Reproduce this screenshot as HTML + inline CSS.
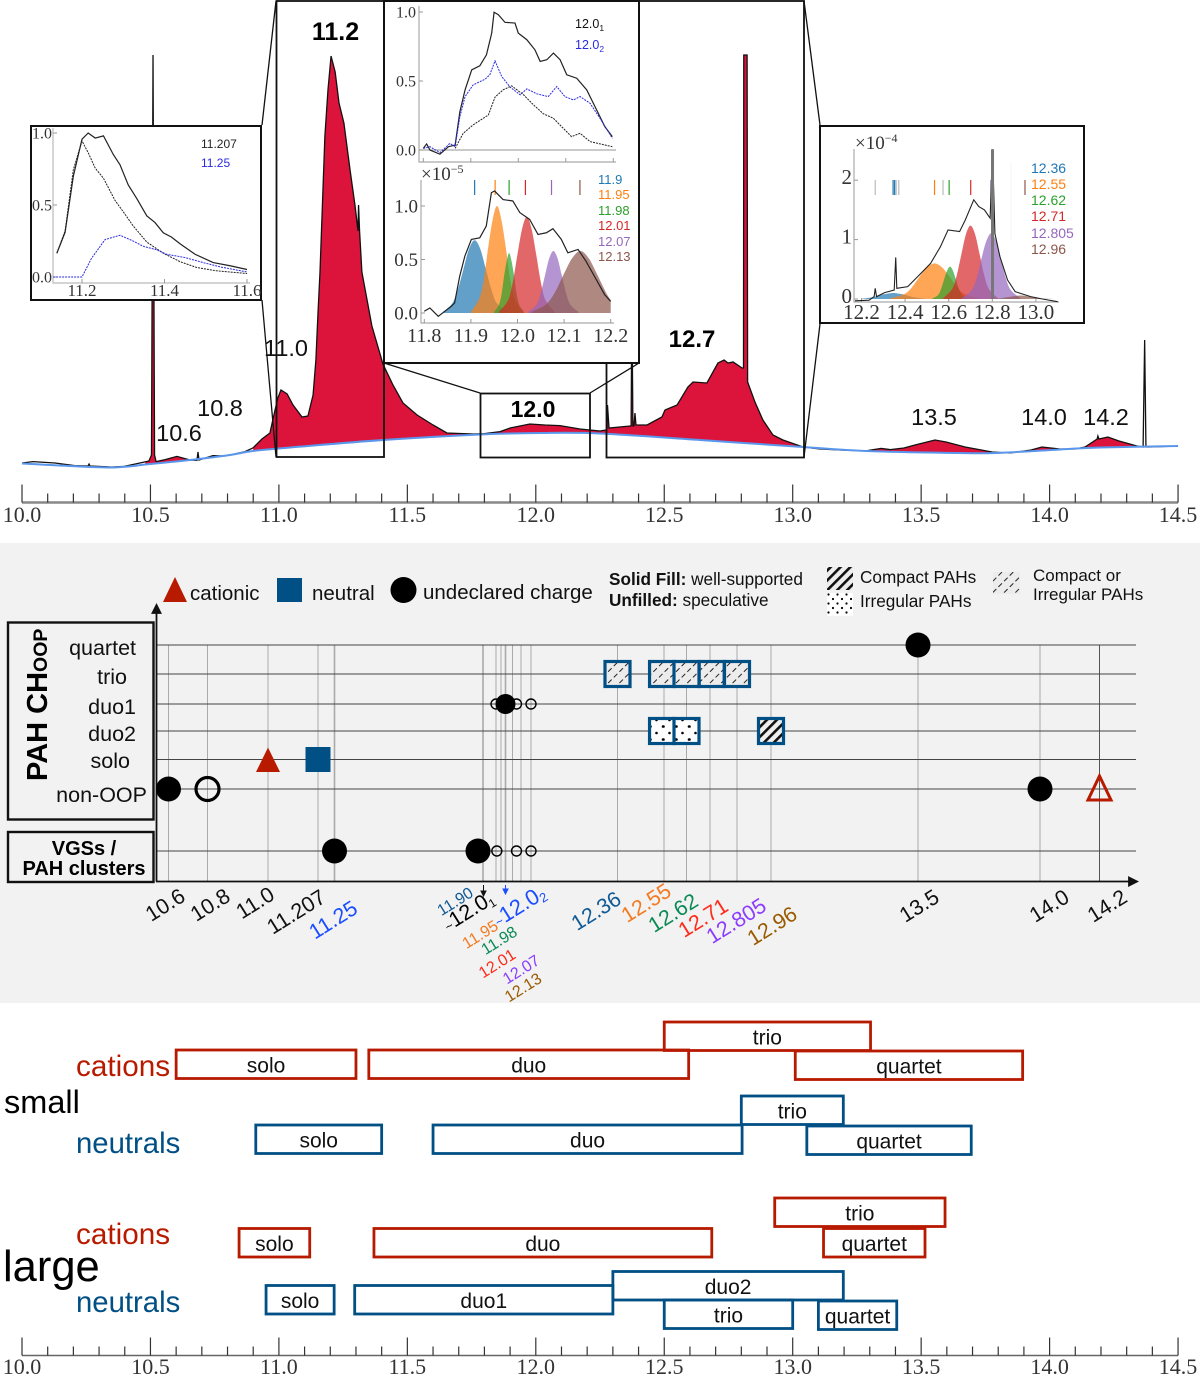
<!DOCTYPE html>
<html lang="en">
<head>
<meta charset="utf-8">
<title>PAH CH out-of-plane band assignments</title>
<style>
html,body{margin:0;padding:0;background:#fff;}
svg{display:block;font-family:"Liberation Sans",sans-serif;}
.ser{font-family:"Liberation Serif",serif;}
.lab{font-size:23.5px;fill:#111;text-anchor:middle;}
.bold{font-weight:bold;fill:#000;text-anchor:middle;}
.rot{font-size:21.5px;text-anchor:middle;}
.rots{font-size:16px;text-anchor:middle;}
.row{font-size:21.5px;fill:#111;text-anchor:end;}
.leg{font-size:20.5px;fill:#111;}
.key{font-size:17.2px;fill:#111;}
</style>
</head>
<body>
<svg id="figure" xmlns="http://www.w3.org/2000/svg" width="1200" height="1375" viewBox="0 0 1200 1375">
<defs>
<pattern id="hatch-compact" patternUnits="userSpaceOnUse" width="7" height="7" patternTransform="rotate(45)"><rect width="7" height="7" fill="#eee"/><rect x="0" width="2.6" height="7" fill="#111"/></pattern>
<pattern id="hatch-light" patternUnits="userSpaceOnUse" width="8" height="8" patternTransform="rotate(45)"><rect width="8" height="8" fill="#ececec"/><path d="M1 0V5" stroke="#222" stroke-width="1"/></pattern>
<pattern id="dots-irregular" patternUnits="userSpaceOnUse" width="13" height="13" x="650" y="718"><rect width="13" height="13" fill="#fff"/><circle cx="6.5" cy="2" r="1.3" fill="#000"/><circle cx="0.5" cy="8.5" r="1.3" fill="#000"/><circle cx="13" cy="8.5" r="1.3" fill="#000"/></pattern>
<pattern id="dots-legend" patternUnits="userSpaceOnUse" width="9" height="9" x="827" y="593"><rect width="9" height="9" fill="#fff"/><circle cx="1.5" cy="1.5" r="1.1" fill="#000"/><circle cx="6" cy="6" r="1.1" fill="#000"/></pattern>
</defs>

<g id="spectrum"></g>

<g>
<text class="lab" x="179" y="441">10.6</text>
<text class="lab" x="220" y="416">10.8</text>
<text class="lab" x="286" y="356">11.0</text>
<text class="lab" x="934" y="425">13.5</text>
<text class="lab" x="1044" y="425">14.0</text>
<text class="lab" x="1106" y="425">14.2</text>
</g>

<g fill="none" stroke="#111" stroke-width="1.8">
<rect x="276.5" y="1" width="107.5" height="456"/>
<rect x="480.5" y="393.5" width="109.5" height="64"/>
<rect x="606.5" y="1" width="197.5" height="456.5"/>
<path d="M276 1L262 125M262 300L276 457M384 363L480 393M639 363L590 393M804 1L820 125M820 324L804 457" stroke-width="1.3"/>
</g>
<text class="bold" x="335.5" y="40" font-size="25">11.2</text>
<text class="bold" x="533" y="417" font-size="23">12.0</text>
<text class="bold" x="692" y="347" font-size="24">12.7</text>

<g id="inset-a">
<rect x="31" y="126" width="230" height="174" fill="#fff" stroke="#111" stroke-width="2"/>
<path d="M53 128V283H250" fill="none" stroke="#bbb" stroke-width="1.2"/>
<text x="201" y="148" font-size="12" fill="#222">11.207</text>
<text x="201" y="167" font-size="12" fill="#2a2ae0">11.25</text>
</g>

<g id="inset-b">
<rect x="384" y="1" width="255" height="362" fill="#fff" stroke="#111" stroke-width="2"/>
<path d="M419 6V162H616M419 150H616" fill="none" stroke="#aaa" stroke-width="1.2"/>
<path d="M421 180V323H614" fill="none" stroke="#aaa" stroke-width="1.2"/>
<text x="575" y="28" font-size="12.5" fill="#111">12.0<tspan font-size="8.5" dy="3">1</tspan></text>
<text x="575" y="49" font-size="12.5" fill="#2a2ae0">12.0<tspan font-size="8.5" dy="3">2</tspan></text>
<text class="ser" x="421" y="180" font-size="19" fill="#333">×10<tspan font-size="12" dy="-7">−5</tspan></text>
<g font-size="13">
<text x="598" y="184" fill="#1f77b4">11.9</text>
<text x="598" y="199" fill="#ff7f0e">11.95</text>
<text x="598" y="215" fill="#2ca02c">11.98</text>
<text x="598" y="230" fill="#d62728">12.01</text>
<text x="598" y="246" fill="#9467bd">12.07</text>
<text x="598" y="261" fill="#8c564b">12.13</text>
</g>
</g>

<g id="inset-c">
<rect x="820" y="126" width="264" height="197" fill="#fff" stroke="#111" stroke-width="2"/>
<path d="M854 149V302H1059" fill="none" stroke="#aaa" stroke-width="1.2"/>
<path d="M1011 162V240" fill="none" stroke="#f4f4f4" stroke-width="1"/>
<text class="ser" x="855" y="149" font-size="19" fill="#333">×10<tspan font-size="12" dy="-7">−4</tspan></text>
<g font-size="14">
<text x="1031" y="173" fill="#1f77b4">12.36</text>
<text x="1031" y="189" fill="#ff7f0e">12.55</text>
<text x="1031" y="205" fill="#2ca02c">12.62</text>
<text x="1031" y="221" fill="#d62728">12.71</text>
<text x="1031" y="238" fill="#9467bd">12.805</text>
<text x="1031" y="254" fill="#8c564b">12.96</text>
</g>
</g>

<g id="top-axis"></g>

<rect x="0" y="543" width="1200" height="460" fill="#f2f2f2"/>
<g id="band-grid"></g>

<g>
<path d="M175 577L187 602H163Z" fill="#b81a00"/>
<text class="leg" x="190" y="600">cationic</text>
<rect x="277" y="578" width="25" height="24" fill="#004f85"/>
<text class="leg" x="312" y="600">neutral</text>
<circle cx="403.5" cy="590" r="13" fill="#000"/>
<text class="leg" x="423" y="599">undeclared charge</text>
<text class="key" x="609" y="585"><tspan font-weight="bold">Solid Fill:</tspan> well-supported</text>
<text class="key" x="609" y="606"><tspan font-weight="bold">Unfilled:</tspan> speculative</text>
<rect x="827" y="567" width="26" height="23" fill="url(#hatch-compact)"/>
<text class="key" x="860" y="583">Compact PAHs</text>
<rect x="827" y="593" width="26" height="23" fill="url(#dots-legend)"/>
<text class="key" x="860" y="607">Irregular PAHs</text>
<rect x="993" y="572" width="27" height="22" fill="url(#hatch-light)"/>
<text class="key" style="font-size:17px" x="1033" y="581">Compact or</text>
<text class="key" style="font-size:17px" x="1033" y="600">Irregular PAHs</text>
</g>

<g>
<rect x="8" y="622.5" width="145.5" height="197" fill="#f2f2f2" stroke="#111" stroke-width="2.4"/>
<rect x="8" y="832" width="145.5" height="50" fill="#f2f2f2" stroke="#111" stroke-width="2.4"/>
<text transform="translate(47,781) rotate(-90)" font-weight="bold" font-size="29" fill="#000">PAH CH<tspan font-size="19.5" dy="0">OOP</tspan></text>
<text class="row" x="136" y="655">quartet</text>
<text class="row" x="127" y="684">trio</text>
<text class="row" x="136" y="714">duo1</text>
<text class="row" x="136" y="741">duo2</text>
<text class="row" x="130" y="768">solo</text>
<text class="row" x="147" y="802">non-OOP</text>
<text x="84" y="855" font-size="20" font-weight="bold" text-anchor="middle" fill="#000">VGSs /</text>
<text x="84" y="875" font-size="20" font-weight="bold" text-anchor="middle" fill="#000">PAH clusters</text>
</g>

<g>
<text class="rot" transform="translate(169,911) rotate(-32)" fill="#111">10.6</text>
<text class="rot" transform="translate(214,911) rotate(-32)" fill="#111">10.8</text>
<text class="rot" transform="translate(259,909) rotate(-32)" fill="#111">11.0</text>
<text class="rot" transform="translate(300,918) rotate(-32)" fill="#111">11.207</text>
<text class="rot" transform="translate(337,926) rotate(-32)" fill="#1a4dff">11.25</text>
<text class="rots" transform="translate(458,906) rotate(-32)" fill="#0f5a96">11.90</text>
<text class="rot" style="font-size:21.5px" transform="translate(472,917) rotate(-32)" fill="#000"><tspan style="font-size:13px">~</tspan>12.0<tspan style="font-size:12px" dy="3">1</tspan></text>
<text class="rot" style="font-size:22px" transform="translate(523,912) rotate(-32)" fill="#1a4dff"><tspan style="font-size:13px">~</tspan>12.0<tspan style="font-size:13px" dy="3">2</tspan></text>
<text class="rots" transform="translate(483,939) rotate(-32)" fill="#f47a20">11.95</text>
<text class="rots" transform="translate(502,945) rotate(-32)" fill="#0a8a55">11.98</text>
<text class="rots" transform="translate(500,968) rotate(-32)" fill="#ff2a1a">12.01</text>
<text class="rots" transform="translate(524,974) rotate(-32)" fill="#8b3dff">12.07</text>
<text class="rots" transform="translate(526,992) rotate(-32)" fill="#9a5a00">12.13</text>
<text class="rot" transform="translate(600,917) rotate(-32)" fill="#0f5a96">12.36</text>
<text class="rot" transform="translate(650,909) rotate(-32)" fill="#f47a20">12.55</text>
<text class="rot" transform="translate(677,919) rotate(-32)" fill="#0a8a55">12.62</text>
<text class="rot" transform="translate(707,924) rotate(-32)" fill="#ff2a1a">12.71</text>
<text class="rot" transform="translate(740,927) rotate(-32)" fill="#8b3dff">12.805</text>
<text class="rot" transform="translate(776,932) rotate(-32)" fill="#9a5a00">12.96</text>
<text class="rot" transform="translate(923,912) rotate(-32)" fill="#111">13.5</text>
<text class="rot" transform="translate(1053,912) rotate(-32)" fill="#111">14.0</text>
<text class="rot" transform="translate(1111,912) rotate(-32)" fill="#111">14.2</text>
<path d="M483.5 885V894M481 891L483.5 896L486 891Z" stroke="#111" fill="#111" stroke-width="1"/>
<path d="M505.5 885V892M503 889L505.5 894L508 889Z" stroke="#1a4dff" fill="#1a4dff" stroke-width="1"/>
</g>

<g id="ranges"></g>
<g>
<text x="76" y="1076" font-size="29.7" fill="#b81a00">cations</text>
<text x="4" y="1113" font-size="32.5" fill="#000">small</text>
<text x="76" y="1153" font-size="29.3" fill="#004f85">neutrals</text>
<text x="76" y="1244" font-size="29.7" fill="#b81a00">cations</text>
<text x="3" y="1281" font-size="43.5" fill="#000">large</text>
<text x="76" y="1312" font-size="29.3" fill="#004f85">neutrals</text>
</g>
<g id="bottom-axis"></g>
</svg>

<script>
/* ---------- wavelength axis ---------- */
const axisMajorLabels = ['10.0','10.5','11.0','11.5','12.0','12.5','13.0','13.5','14.0','14.5'];
const axisMajorValues = [10,10.5,11,11.5,12,12.5,13,13.5,14,14.5];
const axisMinorValues = [10.1,10.2,10.3,10.4,10.6,10.7,10.8,10.9,11.1,11.2,11.3,11.4,11.6,11.7,11.8,11.9,12.1,12.2,12.3,12.4,12.6,12.7,12.8,12.9,13.1,13.2,13.3,13.4,13.6,13.7,13.8,13.9,14.1,14.2,14.3,14.4];

/* ---------- main spectrum (wavelength in micron, flux in arbitrary units) ---------- */
const spectrumWave = [10,10.043,10.128,10.206,10.257,10.261,10.265,10.35,10.397,10.459,10.494,10.504,10.51,10.516,10.522,10.557,10.603,10.654,10.681,10.685,10.689,10.743,10.79,10.806,10.814,10.868,10.899,10.934,10.965,10.985,10.996,11.008,11.032,11.055,11.09,11.113,11.133,11.144,11.152,11.16,11.179,11.191,11.203,11.219,11.234,11.253,11.277,11.296,11.308,11.31,11.314,11.323,11.362,11.405,11.444,11.483,11.538,11.6,11.654,11.756,11.8,11.861,11.9,11.977,12.036,12.094,12.172,12.25,12.273,12.277,12.279,12.285,12.367,12.371,12.374,12.378,12.382,12.386,12.39,12.433,12.491,12.503,12.55,12.592,12.612,12.666,12.709,12.733,12.748,12.768,12.803,12.8085,12.8095,12.8225,12.8245,12.853,12.884,12.923,12.962,13.04,13.106,13.184,13.281,13.344,13.379,13.433,13.476,13.554,13.597,13.671,13.776,13.846,13.928,13.97,14.041,14.099,14.138,14.185,14.188,14.192,14.227,14.27,14.34,14.364,14.37,14.375,14.391,14.5];
const spectrumFlux = [1.75,2.1,1.75,1.1,1,1.5,1,0.75,0.9,1.75,2.25,3.75,103.75,3.75,2.1,2.6,3.4,2.5,2.4,4.5,2.5,3.6,3.5,3.75,3.8,4.6,5.5,7.75,9.25,15,18,20,19,16.25,13.25,13.5,18.75,27.5,39,49.5,83.5,95,103.5,99.5,91.75,86.75,75,66.25,59.75,66.25,59.75,49.5,36,26.5,21.25,16.75,13.75,11.25,9.25,9,9.1,9.6,10.5,11.5,11.25,11.1,10.25,9.75,10,10.25,16.25,10.5,11,11,42.5,11,11,14.25,11.25,11.25,13.25,15,16.25,20.75,22,21.75,26.75,27.5,26.75,27,25.5,25.5,103.75,103.75,22,17,12.5,8.75,7.5,5.75,5.25,5,4.75,5.4,5.1,5.5,6.25,7.5,7,5.75,4.5,4.25,5,5.75,5.25,5.25,5.75,7.75,8.5,7.75,8.25,7.25,6,5.75,32.5,5.75,5.75,6];
const continuumWave = [10,10.148,10.354,10.498,10.654,10.81,10.899,11.082,11.405,11.783,12.016,12.25,12.639,13.04,13.281,13.651,13.791,14.041,14.196,14.5];
const continuumFlux = [1.63,1.13,0.63,1.5,2.5,3.75,4.75,5.83,7.5,8.88,9.25,9.13,7.5,5.75,4.75,4.25,4.25,5.13,5.63,6];
const pahRegionStart = [10.48,10.9,13.3,13.91,14.13];
const pahRegionEnd = [10.81,13.04,13.78,14.05,14.345];

/* ---------- inset 11.2 ---------- */
const a11207Wave = [11.139,11.159,11.179,11.2,11.215,11.232,11.252,11.276,11.292,11.312,11.333,11.357,11.377,11.397,11.417,11.438,11.474,11.518,11.559,11.6];
const a11207Flux = [0.165,0.31,0.7,0.957,1,0.965,0.98,0.85,0.78,0.64,0.544,0.425,0.378,0.307,0.277,0.23,0.158,0.1,0.078,0.052];
const aTotalWave = [11.139,11.159,11.179,11.2,11.215,11.232,11.252,11.28,11.304,11.324,11.357,11.397,11.438,11.478,11.526,11.6];
const aTotalFlux = [0.165,0.32,0.745,0.945,0.863,0.756,0.686,0.532,0.437,0.355,0.243,0.165,0.106,0.066,0.043,0.024];
const a1125Wave = [11.13,11.2,11.223,11.256,11.292,11.32,11.349,11.381,11.405,11.45,11.494,11.535,11.6];
const a1125Flux = [0,0,0.13,0.26,0.29,0.255,0.213,0.189,0.158,0.135,0.1,0.07,0.035];
const aXTicks = [11.2,11.4,11.6];
const aXTickLabels = ['11.2','11.4','11.6'];
const aYTicks = [0,0.5,1];
const aYTickLabels = ['0.0','0.5','1.0'];

/* ---------- inset 12.0, upper ---------- */
const b1Wave = [11.8,11.807,11.814,11.835,11.853,11.867,11.877,11.888,11.902,11.919,11.933,11.944,11.949,11.958,11.972,11.993,12,12.018,12.035,12.046,12.06,12.074,12.088,12.102,12.123,12.144,12.165,12.182,12.198];
const b1Flux = [0.012,0.044,0,-0.03,0.024,0.036,0.278,0.436,0.581,0.61,0.69,0.847,0.998,0.98,0.925,0.92,0.847,0.799,0.726,0.642,0.654,0.702,0.654,0.545,0.52,0.436,0.29,0.17,0.097];
const b2Wave = [11.8,11.814,11.835,11.856,11.867,11.877,11.888,11.905,11.93,11.94,11.951,11.965,11.983,12.004,12.018,12.039,12.063,12.081,12.098,12.116,12.13,12.151,12.172,12.198];
const b2Flux = [0.012,0.024,-0.019,0.048,0.024,0.242,0.387,0.472,0.513,0.545,0.646,0.533,0.455,0.4,0.443,0.407,0.387,0.46,0.387,0.363,0.387,0.339,0.23,0.085];
const b3Wave = [11.867,11.884,11.905,11.937,11.951,11.968,11.986,12.011,12.032,12.053,12.074,12.091,12.112,12.13,12.151,12.198];
const b3Flux = [0.012,0.121,0.182,0.254,0.383,0.436,0.465,0.4,0.327,0.262,0.23,0.17,0.097,0.121,0.061,0.024];
/* ---------- inset 12.0, lower ---------- */
const bFitWave = [11.8,11.812,11.83,11.844,11.858,11.865,11.876,11.887,11.901,11.919,11.933,11.944,11.951,11.969,11.99,12.005,12.026,12.044,12.062,12.076,12.094,12.108,12.13,12.147,12.169,12.187,12.2];
const bFitFlux = [0.016,0.047,-0.031,0.016,0.063,0.094,0.344,0.531,0.688,0.703,0.813,1.125,1.14,1.06,1.047,0.938,0.875,0.734,0.75,0.788,0.688,0.563,0.594,0.484,0.313,0.172,0.109];
const c1190Wave = [11.84,11.86,11.872,11.884,11.896,11.908,11.92,11.932,11.944,11.956,11.98];
const c1190Flux = [0.01,0.09,0.22,0.41,0.6,0.68,0.6,0.41,0.22,0.09,0.01];
const c1195Wave = [11.9,11.918,11.928,11.937,11.947,11.956,11.965,11.975,11.984,11.994,12.01];
const c1195Flux = [0.01,0.135,0.32,0.61,0.88,1,0.88,0.61,0.32,0.135,0.01];
const c1198Wave = [11.95,11.96,11.966,11.971,11.977,11.982,11.987,11.993,11.998,12.004,12.014];
const c1198Flux = [0.01,0.075,0.18,0.34,0.49,0.56,0.49,0.34,0.18,0.075,0.01];
const c1201Wave = [11.96,11.98,11.99,12,12.01,12.02,12.03,12.04,12.05,12.06,12.08];
const c1201Flux = [0.01,0.12,0.29,0.55,0.79,0.9,0.79,0.55,0.29,0.12,0.01];
const c1207Wave = [12.023,12.041,12.05,12.059,12.068,12.077,12.086,12.095,12.104,12.113,12.131];
const c1207Flux = [0.01,0.08,0.19,0.35,0.51,0.58,0.51,0.35,0.19,0.08,0.01];
const c1213Wave = [12.03,12.061,12.08,12.098,12.117,12.135,12.153,12.172,12.19,12.2];
const c1213Flux = [0.01,0.08,0.19,0.35,0.51,0.58,0.51,0.35,0.19,0.12];
const bMarkerWave = [11.908,11.952,11.982,12.017,12.073,12.134];
const bXTicks = [11.8,11.9,12,12.1,12.2];
const bXTickLabels = ['11.8','11.9','12.0','12.1','12.2'];
const bYTicks = [0,0.5,1];
const bYTickLabels = ['0.0','0.5','1.0'];

/* ---------- inset 12.7 ---------- */
const cFitWave = [12.17,12.235,12.258,12.263,12.269,12.306,12.35,12.357,12.362,12.412,12.465,12.517,12.562,12.597,12.65,12.676,12.715,12.738,12.764,12.79,12.801,12.812,12.835,12.87,12.905,12.976,13.03,13.1];
const cFitFlux = [-0.03,-0.02,0.04,0.18,0.04,0.107,0.15,0.7,0.18,0.208,0.404,0.6,0.88,1.163,1.135,1.33,1.67,1.556,1.5,1.36,2.52,1.1,0.713,0.32,0.124,0.04,0,-0.045];
const c1236Wave = [12.2,12.25,12.29,12.32,12.345,12.37,12.4,12.44,12.49];
const c1236Flux = [0.005,0.03,0.07,0.09,0.1,0.09,0.07,0.03,0.005];
const c1255Wave = [12.33,12.395,12.43,12.465,12.5,12.535,12.57,12.605,12.64,12.675,12.74];
const c1255Flux = [0.01,0.08,0.19,0.37,0.53,0.6,0.53,0.37,0.19,0.08,0.01];
const c1262Wave = [12.525,12.552,12.566,12.579,12.593,12.606,12.619,12.633,12.646,12.66,12.687];
const c1262Flux = [0.01,0.07,0.18,0.33,0.48,0.545,0.48,0.33,0.18,0.07,0.01];
const c1271Wave = [12.574,12.616,12.637,12.658,12.679,12.7,12.721,12.742,12.763,12.784,12.826];
const c1271Flux = [0.01,0.17,0.4,0.75,1.09,1.236,1.09,0.75,0.4,0.17,0.01];
const c12805Wave = [12.66,12.705,12.728,12.75,12.772,12.795,12.818,12.84,12.862,12.885,12.93];
const c12805Flux = [0.01,0.15,0.35,0.675,0.97,1.107,0.97,0.675,0.35,0.15,0.01];
const c1296Wave = [12.78,12.83,12.88,12.93,12.98,13.03,13.08];
const c1296Flux = [0.001,0.008,0.036,0.06,0.036,0.008,0.001];
const cMarkerWave = [12.263,12.345,12.352,12.359,12.371,12.535,12.574,12.602,12.701,12.794,12.95];
const cMarkerKind = ['g','b','b','g','g','o','g','t','r','p','n'];
const cXTicks = [12.2,12.4,12.6,12.8,13];
const cXTickLabels = ['12.2','12.4','12.6','12.8','13.0'];
const cYTicks = [0,1,2];
const cYTickLabels = ['0','1','2'];

/* ---------- band assignment grid ---------- */
const bandRows = ['quartet','trio','duo1','duo2','solo','non-OOP','VGS'];
const bandLines = [10.6,10.8,11,11.207,11.25,11.9,11.95,11.98,12,12.01,12.07,12.13,12.36,12.55,12.62,12.71,12.805,12.96,13.5,14,14.2];
const filledCircleBands = [10.6,11.25,11.88,12,13.5,14];
const filledCircleRows = ['non-OOP','VGS','VGS','duo1','quartet','non-OOP'];
const openCircleBands = [10.8];
const openCircleRows = ['non-OOP'];
const smallOpenBands = [11.95,12.03,12.13,11.955,12.03,12.13];
const smallOpenRows = ['duo1','duo1','duo1','VGS','VGS','VGS'];
const cationBands = [11];
const cationRows = ['solo'];
const cationOpenBands = [14.2];
const cationOpenRows = ['non-OOP'];
const neutralBands = [11.207];
const neutralRows = ['solo'];
const hatchBands = [12.36,12.542,12.62,12.716,12.805,12.542,12.62,12.96];
const hatchRows = ['trio','trio','trio','trio','trio','duo2','duo2','duo2'];
const hatchKinds = ['light','light','light','light','light','dots','dots','compact'];

/* ---------- size ranges ---------- */
const rangeLabels = ['solo','duo','trio','quartet','solo','duo','trio','quartet','solo','duo','trio','quartet','solo','duo1','duo2','trio','quartet'];
const rangeStart = [10.6,11.35,12.5,13.01,10.91,11.6,12.8,13.055,10.845,11.37,12.93,13.12,10.95,11.295,12.3,12.5,13.1];
const rangeEnd = [11.3,12.595,13.303,13.895,11.4,12.803,13.197,13.695,11.12,12.685,13.593,13.515,11.215,12.3,13.197,13,13.405];
const rangeSeries = ['cation','cation','cation','cation','neutral','neutral','neutral','neutral','cation','cation','cation','cation','neutral','neutral','neutral','neutral','neutral'];
const rangeTracks = [1,1,0,2,4,4,3,5,7,7,6,7,9,9,8,10,11];

/* ---------- helpers ---------- */
const NS = 'http://www.w3.org/2000/svg';
function make(tag, attrs, parent){
  const el = document.createElementNS(NS, tag);
  for (const k in attrs) el.setAttribute(k, attrs[k]);
  parent.appendChild(el);
  return el;
}
function interp(xs, ys, x){
  if (x <= xs[0]) return ys[0];
  for (let i = 1; i < xs.length; i++){
    if (x <= xs[i]){
      const t = (x - xs[i-1]) / (xs[i] - xs[i-1]);
      return ys[i-1] + t * (ys[i] - ys[i-1]);
    }
  }
  return ys[ys.length-1];
}
function polyPath(wave, flux, xf, yf){
  return wave.map((w,i)=>(i?'L':'M')+xf(w).toFixed(2)+' '+yf(flux[i]).toFixed(2)).join('');
}
function smoothPath(wave, flux, xf, yf){
  const p = wave.map((w,i)=>[xf(w), yf(flux[i])]);
  let d = 'M'+p[0][0].toFixed(2)+' '+p[0][1].toFixed(2);
  for (let i = 0; i < p.length-1; i++){
    const a = p[Math.max(i-1,0)], b = p[i], c = p[i+1], e = p[Math.min(i+2,p.length-1)];
    d += 'C'+(b[0]+(c[0]-a[0])/6).toFixed(2)+' '+(b[1]+(c[1]-a[1])/6).toFixed(2)+' '+(c[0]-(e[0]-b[0])/6).toFixed(2)+' '+(c[1]-(e[1]-b[1])/6).toFixed(2)+' '+c[0].toFixed(2)+' '+c[1].toFixed(2);
  }
  return d;
}
function drawAxis(group, baseY, majorH, minorH, labelY, baseStroke, baseWidth){
  const base = make('line', {x1:axisX(10), x2:axisX(14.5), y1:baseY, y2:baseY, stroke:baseStroke, 'stroke-width':baseWidth}, group);
  
  
  axisMinorValues.forEach(v=>{
    const t = make('line', {x1:axisX(v), x2:axisX(v), y1:baseY-minorH, y2:baseY, stroke:'#333', 'stroke-width':1.2}, group);
    
    
  });
  axisMajorValues.forEach((v,i)=>{
    const t = make('line', {x1:axisX(v), x2:axisX(v), y1:baseY-majorH, y2:baseY, stroke:'#333', 'stroke-width':1.2}, group);
    
    
    const lab = make('text', {x:axisX(v), y:labelY, 'text-anchor':'middle', 'font-size':22, fill:'#333', class:'ser'}, group);
    lab.textContent = axisMajorLabels[i];
    
    
  });
}
function drawTicks(group, xs, xlabels, ys, ylabels, xf, yf, xBase, yBase, xLabY, yLabX, fontX, fontY, yLabShift){
  xs.forEach((v,i)=>{
    const t = make('line', {x1:xf(v), x2:xf(v), y1:yBase-4, y2:yBase, stroke:'#999', 'stroke-width':1}, group);
    
    
    const l = make('text', {x:xf(v), y:xLabY, 'text-anchor':'middle', 'font-size':fontX, fill:'#333', class:'ser'}, group);
    l.textContent = xlabels[i] || '';
    
    
  });
  ys.forEach((v,i)=>{
    const t = make('line', {x1:xBase, x2:xBase+4, y1:yf(v), y2:yf(v), stroke:'#999', 'stroke-width':1}, group);
    
    
    const l = make('text', {x:yLabX, y:yf(v)+fontY*0.33+(yLabShift||0), 'text-anchor':'end', 'font-size':fontY, fill:'#333', class:'ser'}, group);
    l.textContent = ylabels[i];
    
    
  });
}

/* ---------- scales ---------- */
function axisX(w){ return 22 + (w - 10) * 256.9; }
function fluxY(f){ return 470 - f * 4; }
function aX(w){ return 82 + (w - 11.2) * 412.5; }
function aY(f){ return 277 - f * 144; }
function b1X(w){ return 423.3 + (w - 11.8) * 475; }
function b1Y(f){ return 150 - f * 138; }
function b2X(w){ return 424.3 + (w - 11.8) * 466; }
function b2Y(f){ return 313 - f * 107; }
function cX(w){ return 861.5 + (w - 12.2) * 218; }
function cY(f){ return 299 - f * 59.4; }
function bandX(w){
  const bandDomain = [10.6,10.8,11,11.207,11.25,11.88,11.9,11.95,11.98,12,12.01,12.03,12.07,12.13,12.36,12.55,12.62,12.71,12.805,12.96,13.5,14,14.2];
  const bandRange = [168.5,207.5,268,318,334.5,478,483,496,501,505.5,512.5,516.5,521,531,617.5,664,686.5,710,737,771,918,1040,1099.5];
  return interp(bandDomain, bandRange, w);
}
function rowY(name){
  const rowPositions = [645,674,704,731,759.5,789,851];
  return rowPositions[bandRows.indexOf(name)];
}
function trackTop(i){
  const tops = [1022,1050,1051,1096,1125,1126,1198,1228.5,1271.5,1285.5,1300,1301];
  return tops[i];
}

/* ---------- main spectrum ---------- */
const spec = document.getElementById('spectrum');
pahRegionStart.forEach((a,i)=>{
  const b = pahRegionEnd[i];
  const inner = spectrumWave.filter(w=>w>a && w<b);
  const top = [a].concat(inner, [b]);
  let d = top.map((w,j)=>(j?'L':'M')+axisX(w).toFixed(2)+' '+fluxY(interp(spectrumWave,spectrumFlux,w)).toFixed(2)).join('');
  const bottom = [b].concat(continuumWave.filter(w=>w>a && w<b).reverse(), [a]);
  d += bottom.map(w=>'L'+axisX(w).toFixed(2)+' '+fluxY(interp(continuumWave,continuumFlux,w)).toFixed(2)).join('') + 'Z';
  const r = make('path', {d:d, fill:'#dc143c'}, spec);
  
  
});
const specLine = make('path', {d:polyPath(spectrumWave,spectrumFlux,axisX,fluxY), fill:'none', stroke:'#111', 'stroke-width':1.3}, spec);


const contLine = make('path', {d:smoothPath(continuumWave,continuumFlux,axisX,fluxY), fill:'none', stroke:'#5a96ec', 'stroke-width':2}, spec);



/* ---------- inset a ---------- */
const ia = document.getElementById('inset-a');
drawTicks(ia, aXTicks, aXTickLabels, aYTicks, aYTickLabels, aX, aY, 53, 283, 296, 52, 17, 16);
const a1 = make('path', {d:polyPath(a11207Wave,a11207Flux,aX,aY), fill:'none', stroke:'#222', 'stroke-width':1.2}, ia);


const a2 = make('path', {d:polyPath(aTotalWave,aTotalFlux,aX,aY), fill:'none', stroke:'#222', 'stroke-width':1, 'stroke-dasharray':'2 1'}, ia);


const a3 = make('path', {d:polyPath(a1125Wave,a1125Flux,aX,aY), fill:'none', stroke:'#2a2ae0', 'stroke-width':1, 'stroke-dasharray':'2 1'}, ia);



/* ---------- inset b ---------- */
const ib = document.getElementById('inset-b');
drawTicks(ib, bXTicks, [], bYTicks, bYTickLabels, b1X, b1Y, 419, 162, -20, 416, 1, 16);
drawTicks(ib, bXTicks, bXTickLabels, bYTicks, bYTickLabels, b2X, b2Y, 421, 323, 342, 418, 20, 19);
const bl1 = make('path', {d:polyPath(b1Wave,b1Flux,b1X,b1Y), fill:'none', stroke:'#222', 'stroke-width':1.2}, ib);


const bl2 = make('path', {d:polyPath(b2Wave,b2Flux,b1X,b1Y), fill:'none', stroke:'#2a2ae0', 'stroke-width':1, 'stroke-dasharray':'2 1'}, ib);


const bl3 = make('path', {d:polyPath(b3Wave,b3Flux,b1X,b1Y), fill:'none', stroke:'#222', 'stroke-width':1, 'stroke-dasharray':'2 1'}, ib);


const bColors = ['#1f77b4','#ff7f0e','#2ca02c','#d62728','#9467bd','#8c564b'];
[[c1190Wave,c1190Flux],[c1195Wave,c1195Flux],[c1198Wave,c1198Flux],[c1201Wave,c1201Flux],[c1207Wave,c1207Flux],[c1213Wave,c1213Flux]].forEach((s,i)=>{
  const w = s[0];
  const d = smoothPath(w,s[1],b2X,b2Y)+'L'+b2X(w[w.length-1]).toFixed(2)+' '+b2Y(0)+'L'+b2X(w[0]).toFixed(2)+' '+b2Y(0)+'Z';
  const g = make('path', {d:d, fill:bColors[i], 'fill-opacity':0.7}, ib);
  
  
  const m = make('line', {x1:b2X(bMarkerWave[i]), x2:b2X(bMarkerWave[i]), y1:180, y2:195, stroke:bColors[i], 'stroke-width':1.2}, ib);
  
  
});
const bl4 = make('path', {d:polyPath(bFitWave,bFitFlux,b2X,b2Y), fill:'none', stroke:'#222', 'stroke-width':1.2}, ib);



/* ---------- inset c ---------- */
const ic = document.getElementById('inset-c');
drawTicks(ic, cXTicks, cXTickLabels, cYTicks, cYTickLabels, cX, cY, 854, 302, 319, 852, 21, 21, -3);
const cColors = ['#1f77b4','#ff7f0e','#2ca02c','#d62728','#9467bd','#8c564b'];
[[c1236Wave,c1236Flux],[c1255Wave,c1255Flux],[c1262Wave,c1262Flux],[c1271Wave,c1271Flux],[c12805Wave,c12805Flux],[c1296Wave,c1296Flux]].forEach((s,i)=>{
  const w = s[0];
  const d = smoothPath(w,s[1],cX,cY)+'L'+cX(w[w.length-1]).toFixed(2)+' '+cY(0)+'L'+cX(w[0]).toFixed(2)+' '+cY(0)+'Z';
  const g = make('path', {d:d, fill:cColors[i], 'fill-opacity':0.7}, ic);
  
  
});
const markerColour = {g:'#bbbbbb',b:'#1f77b4',o:'#ff7f0e',t:'#2ca02c',r:'#d62728',p:'#9467bd',n:'#8c564b'};
cMarkerWave.forEach((w,i)=>{
  const m = make('line', {x1:cX(w), x2:cX(w), y1:180, y2:195, stroke:markerColour[cMarkerKind[i]], 'stroke-width':1.2}, ic);
  
  
});
const cl = make('path', {d:polyPath(cFitWave,cFitFlux,cX,cY), fill:'none', stroke:'#222', 'stroke-width':1.1}, ic);


const cSpike = make('line', {x1:cX(12.801), x2:cX(12.801), y1:cY(2.52), y2:cY(0), stroke:'#777', 'stroke-width':3}, ic);



/* ---------- axes ---------- */
drawAxis(document.getElementById('top-axis'), 502.5, 18, 9, 522, '#888', 2.4);
drawAxis(document.getElementById('bottom-axis'), 1355.5, 18, 9, 1374, '#666', 1.5);

/* ---------- band grid ---------- */
const grid = document.getElementById('band-grid');
bandLines.forEach(b=>{
  const heavy = (b===11.25 || b===11.9 || b===12);
  const l = make('line', {x1:bandX(b), x2:bandX(b), y1:645, y2:881, stroke:(b===14.2?'#555':'#aaa'), 'stroke-width':heavy?1.6:1}, grid);
  
  
});
bandRows.forEach(r=>{
  const l = make('line', {x1:156, x2:1136, y1:rowY(r), y2:rowY(r), stroke:'#444', 'stroke-width':1.1}, grid);
  
  
});
const yAxisLine = make('path', {d:'M156.5 881.5V612M152.5 613L156.5 605L160.5 613Z', stroke:'#111', fill:'#111', 'stroke-width':1.8}, grid);


const xAxisLine = make('path', {d:'M156 881.5H1130M1129 877.5L1137 881.5L1129 885.5Z', stroke:'#111', fill:'#111', 'stroke-width':1.8}, grid);



filledCircleBands.forEach((b,i)=>{
  const big = filledCircleRows[i] !== 'duo1';
  const c = make('circle', {cx:bandX(b), cy:rowY(filledCircleRows[i]), r:big?12.5:10, fill:'#000'}, grid);
  
  
});
openCircleBands.forEach((b,i)=>{
  const c = make('circle', {cx:bandX(b), cy:rowY(openCircleRows[i]), r:11.5, fill:'none', stroke:'#000', 'stroke-width':3.2}, grid);
  
  
});
smallOpenBands.forEach((b,i)=>{
  const c = make('circle', {cx:bandX(b), cy:rowY(smallOpenRows[i]), r:5, fill:'none', stroke:'#000', 'stroke-width':1.4}, grid);
  
  
});
cationBands.forEach((b,i)=>{
  const x = bandX(b), y = rowY(cationRows[i]);
  const t = make('path', {d:'M'+x+' '+(y-12)+'L'+(x+12)+' '+(y+12.5)+'L'+(x-12)+' '+(y+12.5)+'Z', fill:'#b81a00'}, grid);
  
  
});
cationOpenBands.forEach((b,i)=>{
  const x = bandX(b), y = rowY(cationOpenRows[i]);
  const t = make('path', {d:'M'+x+' '+(y-13)+'L'+(x+11.5)+' '+(y+11)+'L'+(x-11.5)+' '+(y+11)+'Z', fill:'none', stroke:'#b81a00', 'stroke-width':3}, grid);
  
  
});
neutralBands.forEach((b,i)=>{
  const x = bandX(b), y = rowY(neutralRows[i]);
  const s = make('rect', {x:x-12.5, y:y-12.5, width:25, height:25, fill:'#004f85'}, grid);
  
  
});
const hatchFill = {light:'url(#hatch-light)', dots:'url(#dots-irregular)', compact:'url(#hatch-compact)'};
hatchBands.forEach((b,i)=>{
  const x = bandX(b), y = rowY(hatchRows[i]);
  const s = make('rect', {x:x-12.5, y:y-12.5, width:25, height:25, fill:hatchFill[hatchKinds[i]], stroke:'#004f85', 'stroke-width':3.2}, grid);
  
  
});

/* ---------- range bars ---------- */
const ranges = document.getElementById('ranges');
const seriesColour = {cation:'#b81a00', neutral:'#004f85'};
rangeLabels.forEach((name,i)=>{
  const x0 = axisX(rangeStart[i]), x1 = axisX(rangeEnd[i]), y = trackTop(rangeTracks[i]);
  const r = make('rect', {x:x0, y:y, width:x1-x0, height:28.5, fill:'none', stroke:seriesColour[rangeSeries[i]], 'stroke-width':2.8}, ranges);
  
  
  const t = make('text', {x:(x0+x1)/2, y:y+22.5, 'text-anchor':'middle', 'font-size':21, fill:'#111'}, ranges);
  t.textContent = name;
  
  
});
</script>
</body>
</html>
